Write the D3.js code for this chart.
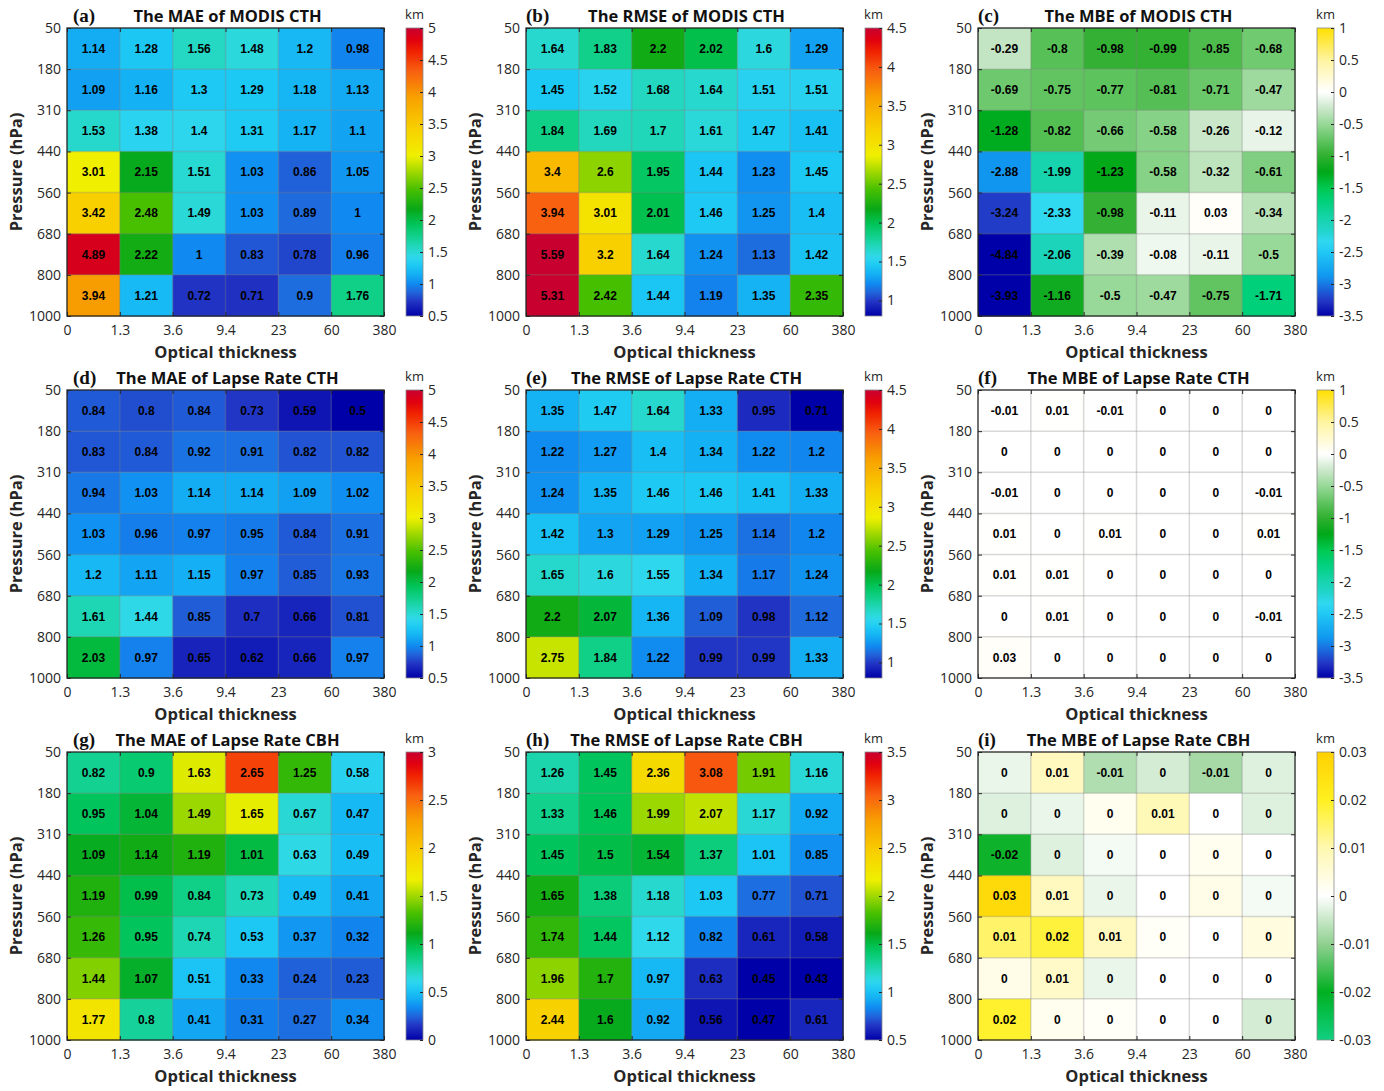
<!DOCTYPE html>
<html>
<head>
<meta charset="utf-8">
<script src="https://cdn.jsdelivr.net/npm/d3@7"></script>
<style>
  html, body { margin: 0; padding: 0; background: #fff; }
  svg { display: block; }
</style>
</head>
<body>
<script>
// Bin edges shared by every panel
const pressureTicks = ["50", "180", "310", "440", "560", "680", "800", "1000"];
const opticalTicks = ["0", "1.3", "3.6", "9.4", "23", "60", "380"];

// Rows: pressure bins from 50-180 hPa (top) to 800-1000 hPa (bottom)
// Columns: optical thickness bins 0-1.3 ... 60-380
const maeModisCTH = [
  [1.14, 1.28, 1.56, 1.48, 1.2, 0.98],
  [1.09, 1.16, 1.3, 1.29, 1.18, 1.13],
  [1.53, 1.38, 1.4, 1.31, 1.17, 1.1],
  [3.01, 2.15, 1.51, 1.03, 0.86, 1.05],
  [3.42, 2.48, 1.49, 1.03, 0.89, 1],
  [4.89, 2.22, 1, 0.83, 0.78, 0.96],
  [3.94, 1.21, 0.72, 0.71, 0.9, 1.76]
];
const rmseModisCTH = [
  [1.64, 1.83, 2.2, 2.02, 1.6, 1.29],
  [1.45, 1.52, 1.68, 1.64, 1.51, 1.51],
  [1.84, 1.69, 1.7, 1.61, 1.47, 1.41],
  [3.4, 2.6, 1.95, 1.44, 1.23, 1.45],
  [3.94, 3.01, 2.01, 1.46, 1.25, 1.4],
  [5.59, 3.2, 1.64, 1.24, 1.13, 1.42],
  [5.31, 2.42, 1.44, 1.19, 1.35, 2.35]
];
const mbeModisCTH = [
  [-0.29, -0.8, -0.98, -0.99, -0.85, -0.68],
  [-0.69, -0.75, -0.77, -0.81, -0.71, -0.47],
  [-1.28, -0.82, -0.66, -0.58, -0.26, -0.12],
  [-2.88, -1.99, -1.23, -0.58, -0.32, -0.61],
  [-3.24, -2.33, -0.98, -0.11, 0.03, -0.34],
  [-4.84, -2.06, -0.39, -0.08, -0.11, -0.5],
  [-3.93, -1.16, -0.5, -0.47, -0.75, -1.71]
];
const maeLapseCTH = [
  [0.84, 0.8, 0.84, 0.73, 0.59, 0.5],
  [0.83, 0.84, 0.92, 0.91, 0.82, 0.82],
  [0.94, 1.03, 1.14, 1.14, 1.09, 1.02],
  [1.03, 0.96, 0.97, 0.95, 0.84, 0.91],
  [1.2, 1.11, 1.15, 0.97, 0.85, 0.93],
  [1.61, 1.44, 0.85, 0.7, 0.66, 0.81],
  [2.03, 0.97, 0.65, 0.62, 0.66, 0.97]
];
const rmseLapseCTH = [
  [1.35, 1.47, 1.64, 1.33, 0.95, 0.71],
  [1.22, 1.27, 1.4, 1.34, 1.22, 1.2],
  [1.24, 1.35, 1.46, 1.46, 1.41, 1.33],
  [1.42, 1.3, 1.29, 1.25, 1.14, 1.2],
  [1.65, 1.6, 1.55, 1.34, 1.17, 1.24],
  [2.2, 2.07, 1.36, 1.09, 0.98, 1.12],
  [2.75, 1.84, 1.22, 0.99, 0.99, 1.33]
];
const mbeLapseCTH = [
  [-0.01, 0.01, -0.01, 0, 0, 0],
  [0, 0, 0, 0, 0, 0],
  [-0.01, 0, 0, 0, 0, -0.01],
  [0.01, 0, 0.01, 0, 0, 0.01],
  [0.01, 0.01, 0, 0, 0, 0],
  [0, 0.01, 0, 0, 0, -0.01],
  [0.03, 0, 0, 0, 0, 0]
];
const maeLapseCBH = [
  [0.82, 0.9, 1.63, 2.65, 1.25, 0.58],
  [0.95, 1.04, 1.49, 1.65, 0.67, 0.47],
  [1.09, 1.14, 1.19, 1.01, 0.63, 0.49],
  [1.19, 0.99, 0.84, 0.73, 0.49, 0.41],
  [1.26, 0.95, 0.74, 0.53, 0.37, 0.32],
  [1.44, 1.07, 0.51, 0.33, 0.24, 0.23],
  [1.77, 0.8, 0.41, 0.31, 0.27, 0.34]
];
const rmseLapseCBH = [
  [1.26, 1.45, 2.36, 3.08, 1.91, 1.16],
  [1.33, 1.46, 1.99, 2.07, 1.17, 0.92],
  [1.45, 1.5, 1.54, 1.37, 1.01, 0.85],
  [1.65, 1.38, 1.18, 1.03, 0.77, 0.71],
  [1.74, 1.44, 1.12, 0.82, 0.61, 0.58],
  [1.96, 1.7, 0.97, 0.63, 0.45, 0.43],
  [2.44, 1.6, 0.92, 0.56, 0.47, 0.61]
];
// Kept to three decimals; cell labels show them rounded to two
const mbeLapseCBH = [
  [-0.002, 0.008, -0.007, -0.004, -0.008, -0.003],
  [-0.003, -0.002, 0.002, 0.009, 0, -0.003],
  [-0.019, -0.003, -0.001, 0, 0.002, 0],
  [0.027, 0.008, -0.002, 0, 0.003, -0.001],
  [0.0149, 0.018, 0.008, 0.001, 0, 0.004],
  [0.003, 0.007, -0.002, 0, 0, 0],
  [0.019, 0.002, 0.001, 0, 0, -0.004]
];

// Colour-bar limits and tick labels
const cbarMaeCTH = [0.5, 1, 1.5, 2, 2.5, 3, 3.5, 4, 4.5, 5];
const cbarRmseCTH = [1, 1.5, 2, 2.5, 3, 3.5, 4, 4.5];
const cbarMbeCTH = [-3.5, -3, -2.5, -2, -1.5, -1, -0.5, 0, 0.5, 1];
const cbarMaeCBH = [0, 0.5, 1, 1.5, 2, 2.5, 3];
const cbarRmseCBH = [0.5, 1, 1.5, 2, 2.5, 3, 3.5];
const cbarMbeCBH = [-0.03, -0.02, -0.01, 0, 0.01, 0.02, 0.03];

// Colour maps: fraction along the bar -> colour
const rainbowMap = [
  [0.000, "#0000a8"], [0.050, "#2234c4"], [0.085, "#2068dc"], [0.110, "#1088f0"],
  [0.145, "#14b0f4"], [0.175, "#1cc8f4"], [0.205, "#30d8ec"], [0.235, "#24d8c4"],
  [0.280, "#10d088"], [0.320, "#00c458"], [0.370, "#08a818"], [0.440, "#48c000"],
  [0.500, "#a0d800"], [0.556, "#f0f000"], [0.650, "#f8d000"], [0.760, "#f8a000"],
  [0.850, "#f86010"], [0.920, "#f02000"], [0.960, "#e00010"], [1.000, "#c80030"]
];
const biasMap = [
  [0.000, "#0000a8"], [0.050, "#2234c4"], [0.110, "#1878e4"], [0.140, "#1098f0"],
  [0.222, "#20c8f4"], [0.260, "#30d8f0"], [0.300, "#20d4c8"], [0.333, "#18d4b0"],
  [0.400, "#00d078"], [0.444, "#00c850"], [0.500, "#00a818"], [0.556, "#30b030"],
  [0.610, "#60c460"], [0.667, "#98d898"], [0.722, "#cce8cc"], [0.778, "#ffffff"],
  [0.889, "#fff4a0"], [1.000, "#ffe000"]
];
const smallBiasMap = [
  [0.000, "#10d080"], [0.167, "#00b020"], [0.333, "#90d090"], [0.500, "#ffffff"],
  [0.667, "#fff8b0"], [0.833, "#fff020"], [1.000, "#ffd000"]
];

const panels = [
  { tag: "(a)", title: "The MAE of MODIS CTH", values: maeModisCTH, lim: [0.5, 5], ticks: cbarMaeCTH, cmap: rainbowMap },
  { tag: "(b)", title: "The RMSE of MODIS CTH", values: rmseModisCTH, lim: [0.8, 4.5], ticks: cbarRmseCTH, cmap: rainbowMap },
  { tag: "(c)", title: "The MBE of MODIS CTH", values: mbeModisCTH, lim: [-3.5, 1], ticks: cbarMbeCTH, cmap: biasMap },
  { tag: "(d)", title: "The MAE of Lapse Rate CTH", values: maeLapseCTH, lim: [0.5, 5], ticks: cbarMaeCTH, cmap: rainbowMap },
  { tag: "(e)", title: "The RMSE of Lapse Rate CTH", values: rmseLapseCTH, lim: [0.8, 4.5], ticks: cbarRmseCTH, cmap: rainbowMap },
  { tag: "(f)", title: "The MBE of Lapse Rate CTH", values: mbeLapseCTH, lim: [-3.5, 1], ticks: cbarMbeCTH, cmap: biasMap },
  { tag: "(g)", title: "The MAE of Lapse Rate CBH", values: maeLapseCBH, lim: [0, 3], ticks: cbarMaeCBH, cmap: rainbowMap },
  { tag: "(h)", title: "The RMSE of Lapse Rate CBH", values: rmseLapseCBH, lim: [0.5, 3.5], ticks: cbarRmseCBH, cmap: rainbowMap },
  { tag: "(i)", title: "The MBE of Lapse Rate CBH", values: mbeLapseCBH, lim: [-0.03, 0.03], ticks: cbarMbeCBH, cmap: smallBiasMap }
];

// ---- layout ----
const W = 1384, H = 1091;
const colLeft = [67, 526, 978];
const rowTop = [28, 390, 752];
const plotW = 317, plotH = 288;
const tagOffset = [6, 0, 0];
const cbarGap = 22, cbarW = 17;
const sans = "'Open Sans', 'Noto Sans', sans-serif";
const ink = "#262626";

const svg = d3.select("body").append("svg")
  .attr("width", W).attr("height", H)
  .style("font-family", sans);

const defs = svg.append("defs");
const fmt = v => String(+(+v).toFixed(2));

function colourScale(cmap, lim) {
  return d3.scaleLinear()
    .domain(cmap.map(s => lim[0] + s[0] * (lim[1] - lim[0])))
    .range(cmap.map(s => s[1]))
    .interpolate(d3.interpolateRgb)
    .clamp(true);
}

panels.forEach((p, i) => {
  const c = i % 3, r = Math.floor(i / 3);
  const left = colLeft[c], top = rowTop[r];
  const nRows = p.values.length, nCols = p.values[0].length;

  const x = d3.scaleLinear().domain([0, nCols]).range([left, left + plotW]);
  const y = d3.scaleLinear().domain([0, nRows]).range([top, top + plotH]);
  const colour = colourScale(p.cmap, p.lim);

  const g = svg.append("g").attr("class", "panel");

  const cells = [];
  p.values.forEach((row, ri) => row.forEach((v, ci) => cells.push({ ri, ci, v })));

  // heat-map cells
  g.append("g").selectAll("rect").data(cells).join("rect")
    .attr("x", d => x(d.ci))
    .attr("y", d => y(d.ri))
    .attr("width", x(1) - x(0) + 0.5)
    .attr("height", y(1) - y(0) + 0.5)
    .attr("fill", d => colour(d.v));

  // grid lines at bin edges
  const grid = g.append("g").attr("stroke", "#808080").attr("stroke-opacity", 0.3).attr("stroke-width", 1.5);
  grid.selectAll("line.v").data(d3.range(1, nCols)).join("line")
    .attr("x1", d => x(d)).attr("x2", d => x(d)).attr("y1", top).attr("y2", top + plotH);
  grid.selectAll("line.h").data(d3.range(1, nRows)).join("line")
    .attr("y1", d => y(d)).attr("y2", d => y(d)).attr("x1", left).attr("x2", left + plotW);

  // cell value labels
  g.append("g").selectAll("text").data(cells).join("text")
    .attr("x", d => x(d.ci + 0.5))
    .attr("y", d => y(d.ri + 0.5))
    .attr("dy", "0.36em")
    .attr("text-anchor", "middle")
    .style("font-family", "'Liberation Sans', Arial, sans-serif")
    .style("font-weight", "bold")
    .style("font-size", "12px")
    .attr("fill", "#000")
    .text(d => fmt(d.v));

  // axes (inward ticks on all four sides)
  const styleAxis = sel => {
    sel.select(".domain").remove();
    sel.selectAll(".tick line").attr("stroke", ink).attr("stroke-width", 1);
    sel.selectAll(".tick text").attr("fill", ink).style("font-size", "14px").style("font-family", sans);
  };
  g.append("g").attr("transform", `translate(0,${top + plotH})`)
    .call(d3.axisBottom(x).tickValues(d3.range(nCols + 1)).tickFormat(k => opticalTicks[k]).tickSize(-4).tickPadding(9))
    .call(styleAxis);
  g.append("g").attr("transform", `translate(0,${top})`)
    .call(d3.axisTop(x).tickValues(d3.range(nCols + 1)).tickFormat("").tickSize(-4))
    .call(styleAxis);
  g.append("g").attr("transform", `translate(${left},0)`)
    .call(d3.axisLeft(y).tickValues(d3.range(nRows + 1)).tickFormat(k => pressureTicks[k]).tickSize(-4).tickPadding(6))
    .call(styleAxis);
  g.append("g").attr("transform", `translate(${left + plotW},0)`)
    .call(d3.axisRight(y).tickValues(d3.range(nRows + 1)).tickFormat("").tickSize(-4))
    .call(styleAxis);

  // axes box
  g.append("rect")
    .attr("x", left).attr("y", top).attr("width", plotW).attr("height", plotH)
    .attr("fill", "none").attr("stroke", ink).attr("stroke-width", 1.3);

  // titles
  g.append("text")
    .attr("x", left + tagOffset[c]).attr("y", top - 6)
    .style("font-family", "'Liberation Serif', 'Times New Roman', serif")
    .style("font-size", "19px").style("font-weight", "bold")
    .attr("fill", "#111")
    .text(p.tag);
  g.append("text")
    .attr("x", left + plotW / 2 + 2).attr("y", top - 6)
    .attr("text-anchor", "middle")
    .style("font-size", "16.5px").style("font-weight", "bold")
    .attr("fill", "#111")
    .text(p.title);

  // axis titles
  g.append("text")
    .attr("x", left + plotW / 2).attr("y", top + plotH + 42)
    .attr("text-anchor", "middle")
    .style("font-size", "16.5px").style("font-weight", "bold")
    .attr("fill", ink)
    .text("Optical thickness");
  g.append("text")
    .attr("transform", `translate(${left - 45},${top + plotH / 2}) rotate(-90)`)
    .attr("text-anchor", "middle")
    .style("font-size", "16.5px").style("font-weight", "bold")
    .attr("fill", ink)
    .text("Pressure (hPa)");

  // colour bar
  const cx = left + plotW + cbarGap;
  const cy = d3.scaleLinear().domain(p.lim).range([top + plotH, top]);
  const gradId = "cbar" + i;
  const grad = defs.append("linearGradient").attr("id", gradId)
    .attr("x1", 0).attr("y1", 1).attr("x2", 0).attr("y2", 0);
  grad.selectAll("stop").data(d3.range(0, 1.0001, 0.01)).join("stop")
    .attr("offset", t => t)
    .attr("stop-color", t => colour(p.lim[0] + t * (p.lim[1] - p.lim[0])));
  g.append("rect")
    .attr("x", cx).attr("y", top).attr("width", cbarW).attr("height", plotH)
    .attr("fill", `url(#${gradId})`)
    .attr("stroke", "#8a8a8a").attr("stroke-width", 0.8);
  g.append("g").attr("transform", `translate(${cx + cbarW},0)`)
    .call(d3.axisRight(cy).tickValues(p.ticks).tickFormat(fmt).tickSize(-3).tickPadding(5))
    .call(styleAxis);
  g.append("text")
    .attr("x", cx + cbarW / 2).attr("y", top - 9)
    .attr("text-anchor", "middle")
    .style("font-size", "13px")
    .attr("fill", ink)
    .text("km");
});
</script>
</body>
</html>
